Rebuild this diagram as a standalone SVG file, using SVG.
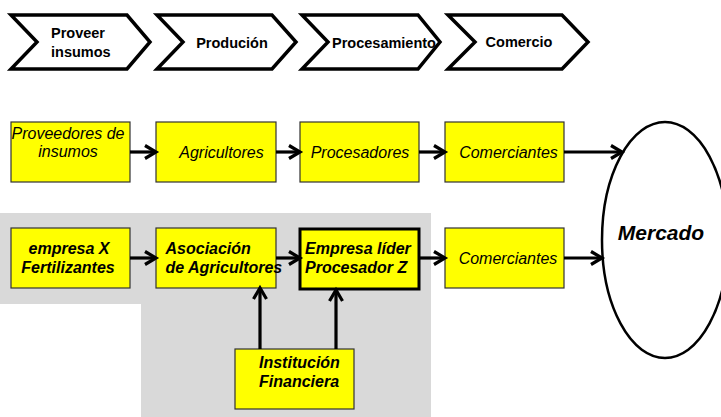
<svg xmlns="http://www.w3.org/2000/svg" width="721" height="417" viewBox="0 0 721 417">
<defs>
<style>
.chev{fill:#fff;stroke:#000;stroke-width:3.5;stroke-linejoin:miter}
.hdr{font-family:"Liberation Sans",Arial,sans-serif;font-weight:bold;font-size:14.5px;fill:#000}
.box{fill:#ffff00;stroke:#333;stroke-width:1.2}
.thick{fill:#ffff00;stroke:#000;stroke-width:3}
.it{font-family:"Liberation Sans",Arial,sans-serif;font-style:italic;font-size:16px;fill:#000}
.bi{font-family:"Liberation Sans",Arial,sans-serif;font-style:italic;font-weight:bold;font-size:16px;fill:#000}
.conn{fill:none;stroke:#000;stroke-width:3.2;marker-end:url(#ah)}
</style>
<marker id="ah" markerUnits="userSpaceOnUse" viewBox="0 0 14 16" refX="12" refY="8" markerWidth="14" markerHeight="16" orient="auto" overflow="visible">
<path d="M1,1.5 L12,8 L1,14.5" fill="none" stroke="#000" stroke-width="3.2"/>
</marker>
</defs>
<rect width="721" height="417" fill="#fff"/>
<polygon id="bg" points="0,213 431,213 431,417 141,417 141,304 0,304" fill="#d9d9d9"/>

<g id="hdr1"><polygon class="chev" points="11,15 127,15 150,42 127,69 11,69 37,42"/>
<text class="hdr" x="51" y="38">Proveer</text><text class="hdr" x="51" y="57">insumos</text></g>
<g id="hdr2"><polygon class="chev" points="157,15 272,15 296,42 272,69 157,69 183,42"/>
<text class="hdr" x="232" y="48" text-anchor="middle">Produción</text></g>
<g id="hdr3"><polygon class="chev" points="302,15 418,15 440,42 418,69 302,69 328,42"/>
<text class="hdr" x="384" y="48" text-anchor="middle">Procesamiento</text></g>
<g id="hdr4"><polygon class="chev" points="448,15 562,15 588,42 562,69 448,69 475,42"/>
<text class="hdr" x="519" y="47" text-anchor="middle">Comercio</text></g>

<g id="mercado"><ellipse cx="665" cy="240" rx="63" ry="118" fill="#fff" stroke="#000" stroke-width="2.5"/>
<text x="661" y="240" text-anchor="middle" style="font-family:'Liberation Sans',Arial,sans-serif;font-style:italic;font-weight:bold;font-size:21px">Mercado</text></g>

<g id="n1"><rect class="box" x="11" y="122" width="119" height="60"/>
<text class="it" x="68" y="139" text-anchor="middle">Proveedores de</text><text class="it" x="68" y="157" text-anchor="middle">insumos</text></g>
<g id="n2"><rect class="box" x="156" y="122" width="120" height="60"/>
<text class="it" x="221.5" y="158" text-anchor="middle">Agricultores</text></g>
<g id="n3"><rect class="box" x="300" y="122" width="119" height="60"/>
<text class="it" x="360" y="158" text-anchor="middle">Procesadores</text></g>
<g id="n4"><rect class="box" x="445" y="122" width="119" height="60"/>
<text class="it" x="508.5" y="158" text-anchor="middle">Comerciantes</text></g>

<g id="n5"><rect class="box" x="11" y="228" width="119" height="60"/>
<text class="bi" x="69" y="254" text-anchor="middle">empresa X</text><text class="bi" x="68" y="273" text-anchor="middle">Fertilizantes</text></g>
<g id="n6"><rect class="box" x="156" y="228" width="120" height="60"/>
<text class="bi" x="165.5" y="254">Asociación</text><text class="bi" x="165.5" y="273">de Agricultores</text></g>
<g id="n7"><rect class="thick" x="300" y="229" width="119" height="60"/>
<text class="bi" x="305" y="254">Empresa líder</text><text class="bi" x="305" y="273">Procesador Z</text></g>
<g id="n8"><rect class="box" x="445" y="228" width="119" height="60"/>
<text class="it" x="508" y="264" text-anchor="middle">Comerciantes</text></g>
<g id="n9"><rect class="box" x="235" y="349" width="119" height="60"/>
<text class="bi" x="259" y="368">Institución</text><text class="bi" x="259" y="387">Financiera</text></g>

<g id="connectors">
<path class="conn" d="M130,152 H156"/>
<path class="conn" d="M276,152 H300"/>
<path class="conn" d="M419,152 H445"/>
<path class="conn" d="M564,152 H622"/>
<path class="conn" d="M130,258 H156"/>
<path class="conn" d="M276,258 H300"/>
<path class="conn" d="M419,258 H445"/>
<path class="conn" d="M564,258 H602"/>
<path class="conn" d="M260,349 V288"/>
<path class="conn" d="M336,349 V290"/>
</g>
</svg>
